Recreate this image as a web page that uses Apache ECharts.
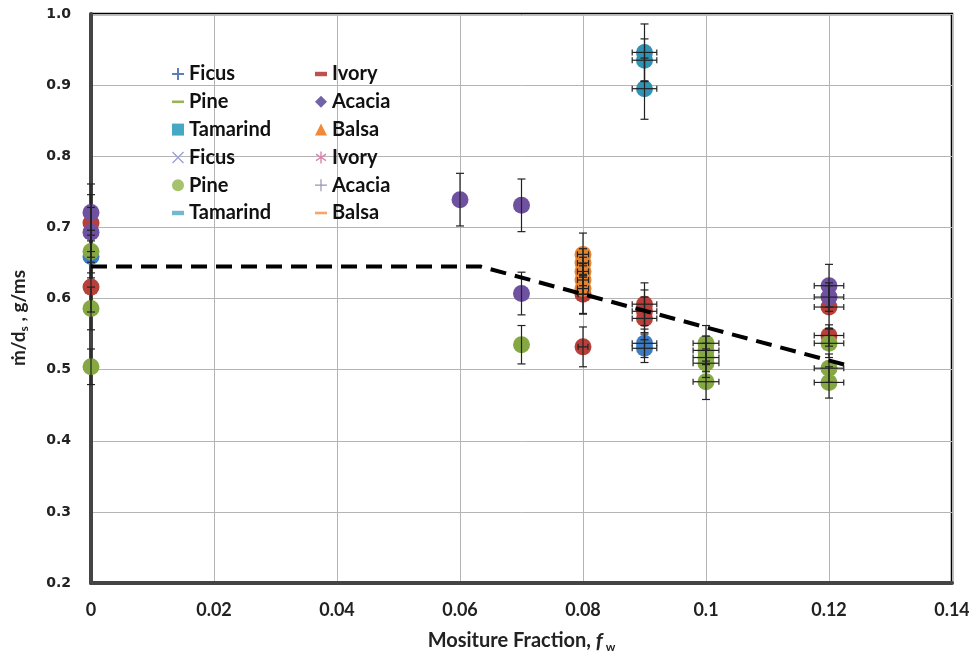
<!DOCTYPE html>
<html>
<head>
<meta charset="utf-8">
<script src="https://cdn.jsdelivr.net/npm/echarts@6/dist/echarts.min.js"></script>
<style>
  html, body { margin: 0; padding: 0; background: #fff; }
  #chart { width: 969px; height: 654px; }
</style>
</head>
<body>
<div id="chart"></div>
<script>
// axis ticks
var xTicks = [0, 0.02, 0.04, 0.06, 0.08, 0.1, 0.12, 0.14];
var yTicks = [0.2, 0.3, 0.4, 0.5, 0.6, 0.7, 0.8, 0.9, 1.0];

// data per wood: moisture fraction, m/ds, half error in y, half error in x
var ficusX = [0, 0.09, 0.09];
var ficusY = [0.659, 0.537, 0.530];
var ficusYErr = [0.03, 0.02, 0.02];
var ficusXErr = [0, 0.002, 0.002];

var ivoryX = [0, 0, 0.08, 0.08, 0.09, 0.09, 0.09, 0.12, 0.12];
var ivoryY = [0.706, 0.616, 0.606, 0.532, 0.592, 0.582, 0.572, 0.588, 0.548];
var ivoryYErr = [0.04, 0.035, 0.028, 0.028, 0.03, 0.03, 0.03, 0.03, 0.015];
var ivoryXErr = [0, 0, 0.0008, 0.0008, 0.002, 0.002, 0.002, 0.0024, 0.0024];

var pineX = [0, 0, 0, 0.07, 0.1, 0.1, 0.1, 0.1, 0.1, 0.12, 0.12, 0.12];
var pineY = [0.666, 0.586, 0.504, 0.535, 0.537, 0.527, 0.517, 0.509, 0.483, 0.537, 0.502, 0.482];
var pineYErr = [0.03, 0.03, 0.025, 0.027, 0.025, 0.02, 0.02, 0.02, 0.025, 0.02, 0.02, 0.022];
var pineXErr = [0, 0, 0, 0, 0.0021, 0.0021, 0.0021, 0.0021, 0.0021, 0.0024, 0.0024, 0.0024];

var acaciaX = [0, 0, 0.06, 0.07, 0.07, 0.12, 0.12];
var acaciaY = [0.721, 0.693, 0.739, 0.731, 0.607, 0.618, 0.602];
var acaciaYErr = [0.04, 0.035, 0.037, 0.037, 0.03, 0.03, 0.02];
var acaciaXErr = [0, 0, 0, 0, 0, 0.0024, 0.0024];

var tamarindX = [0.09, 0.09, 0.09];
var tamarindY = [0.946, 0.935, 0.895];
var tamarindYErr = [0.04, 0.03, 0.043];
var tamarindXErr = [0.002, 0.002, 0.002];

var balsaX = [0.08, 0.08, 0.08, 0.08, 0.08];
var balsaY = [0.662, 0.650, 0.638, 0.626, 0.614];
var balsaYErr = [0.03, 0.02, 0.02, 0.02, 0.035];
var balsaXErr = [0.0009, 0.0009, 0.0009, 0.0009, 0.0009];

// dashed fit line
var fitX = [0, 0.0633, 0.1234];
var fitY = [0.645, 0.645, 0.505];

var woods = [
  { name: 'Ficus', x: ficusX, y: ficusY, ye: ficusYErr, xe: ficusXErr, color: '#3b7cc4' },
  { name: 'Ivory', x: ivoryX, y: ivoryY, ye: ivoryYErr, xe: ivoryXErr, color: '#b9403a' },
  { name: 'Pine', x: pineX, y: pineY, ye: pineYErr, xe: pineXErr, color: '#86a843' },
  { name: 'Acacia', x: acaciaX, y: acaciaY, ye: acaciaYErr, xe: acaciaXErr, color: '#6f51a1' },
  { name: 'Tamarind', x: tamarindX, y: tamarindY, ye: tamarindYErr, xe: tamarindXErr, color: '#2f93b5' },
  { name: 'Balsa', x: balsaX, y: balsaY, ye: balsaYErr, xe: balsaXErr, color: '#e5832f' }
];

// legend icons (excel style markers)
var plusIcon = 'path://M5,0H7V5H12V7H7V12H5V7H0V5H5Z';
var thinPlus = 'path://M5.4,0H6.6V5.4H12V6.6H6.6V12H5.4V6.6H0V5.4H5.4Z';
var crossIcon = 'path://M1,0L6,5L11,0L12,1L7,6L12,11L11,12L6,7L1,12L0,11L5,6L0,1Z';
var starIcon = 'path://M5.3,0H6.7V4.8L10.6,2.2L11.4,3.4L7.4,6L11.4,8.6L10.6,9.8L6.7,7.2V12H5.3V7.2L1.4,9.8L0.6,8.6L4.6,6L0.6,3.4L1.4,2.2L5.3,4.8Z';
var dashIcon = 'path://M0,0H12V2.6H0Z';
var shortDash = 'path://M0,0H7V2.6H0Z';

var legendLeft = [
  { name: 'Ficus', icon: plusIcon, itemStyle: { color: '#5b80b8' } },
  { name: 'Pine', icon: dashIcon, itemStyle: { color: '#98b556' } },
  { name: 'Tamarind', icon: 'rect', itemStyle: { color: '#45a8c4' } },
  { name: 'Ficus ', icon: crossIcon, itemStyle: { color: '#9aa3d4' } },
  { name: 'Pine ', icon: 'circle', itemStyle: { color: '#a5c36d' } },
  { name: 'Tamarind ', icon: shortDash, itemStyle: { color: '#72b8cf' } }
];
var legendRight = [
  { name: 'Ivory', icon: shortDash, itemStyle: { color: '#c0504d' } },
  { name: 'Acacia', icon: 'diamond', itemStyle: { color: '#7462a6' } },
  { name: 'Balsa', icon: 'triangle', itemStyle: { color: '#f08a3a' } },
  { name: 'Ivory ', icon: starIcon, itemStyle: { color: '#d883ad' } },
  { name: 'Acacia ', icon: thinPlus, itemStyle: { color: '#9a92b4' } },
  { name: 'Balsa ', icon: dashIcon, itemStyle: { color: '#f3a56c' } }
];

function zip(w) {
  return w.x.map(function (v, i) { return [v, w.y[i], w.ye[i], w.xe[i]]; });
}

function renderErr(params, api) {
  var x = api.value(0), y = api.value(1), ye = api.value(2), xe = api.value(3);
  var top = api.coord([x, y + ye]);
  var bot = api.coord([x, y - ye]);
  var c = api.coord([x, y]);
  var st = { stroke: '#222', lineWidth: 1.2 };
  var cap = 4;
  var kids = [
    { type: 'line', shape: { x1: c[0], y1: top[1], x2: c[0], y2: bot[1] }, style: st },
    { type: 'line', shape: { x1: c[0] - cap, y1: top[1], x2: c[0] + cap, y2: top[1] }, style: st },
    { type: 'line', shape: { x1: c[0] - cap, y1: bot[1], x2: c[0] + cap, y2: bot[1] }, style: st }
  ];
  if (xe > 0) {
    var l = api.coord([x - xe, y]);
    var r = api.coord([x + xe, y]);
    kids.push({ type: 'line', shape: { x1: l[0], y1: c[1], x2: r[0], y2: c[1] }, style: st });
    kids.push({ type: 'line', shape: { x1: l[0], y1: c[1] - 3, x2: l[0], y2: c[1] + 3 }, style: st });
    kids.push({ type: 'line', shape: { x1: r[0], y1: c[1] - 3, x2: r[0], y2: c[1] + 3 }, style: st });
  }
  return { type: 'group', children: kids };
}

var series = [];
woods.forEach(function (w) {
  series.push({
    name: w.name,
    type: 'scatter',
    data: zip(w),
    symbol: 'circle',
    symbolSize: 17,
    itemStyle: { color: w.color, opacity: 1 },
    z: 2
  });
});
woods.forEach(function (w) {
  series.push({
    name: w.name + ' ',
    type: 'custom',
    data: zip(w),
    renderItem: renderErr,
    encode: { x: 0, y: 1 },
    z: 3
  });
});
series.push({
  type: 'line',
  data: fitX.map(function (v, i) { return [v, fitY[i]]; }),
  symbol: 'none',
  lineStyle: { color: '#000', width: 4, type: [16, 9] },
  z: 4
});

var legendText = { fontFamily: 'Lato', fontWeight: 'bold', fontSize: 20, color: '#111' };

var chart = echarts.init(document.getElementById('chart'));
chart.setOption({
  backgroundColor: '#fff',
  animation: false,
  grid: { left: 91, right: 17, top: 14, bottom: 71, show: true, borderColor: '#000', borderWidth: 2.5,
    outerBoundsMode: 'none', containLabel: false },
  legend: [
    { left: 167, top: 59, orient: 'vertical', itemWidth: 12, itemHeight: 12, itemGap: 7.8, itemTextGap: 7,
      textStyle: legendText, data: legendLeft, selectedMode: false },
    { left: 310, top: 59, orient: 'vertical', itemWidth: 12, itemHeight: 12, itemGap: 7.8, itemTextGap: 7,
      textStyle: legendText, data: legendRight, selectedMode: false }
  ],
  // y axis title, placed like the original
  graphic: [{
    type: 'text',
    x: 19, y: 318,
    rotation: Math.PI / 2,
    style: {
      text: 'ṁ/d{sub|s} , g/ms',
      align: 'center', verticalAlign: 'middle',
      fontFamily: 'Lato', fontWeight: 'bold', fontSize: 19, fill: '#222',
      rich: {
        sub: { fontFamily: 'Lato', fontWeight: 'bold', fontSize: 12, fill: '#222', padding: [10, 0, 0, 0] }
      }
    }
  }],
  xAxis: {
    type: 'value',
    min: xTicks[0], max: xTicks[xTicks.length - 1], interval: 0.02,
    name: 'Mositure Fraction, {it|f}{sub| w}',
    nameLocation: 'middle', nameGap: 46,
    nameTextStyle: {
      fontFamily: 'Lato', fontWeight: 'bold', fontSize: 20, color: '#222',
      rich: {
        it: { fontFamily: 'Lato', fontStyle: 'italic', fontWeight: 'bold', fontSize: 21, color: '#222' },
        sub: { fontFamily: 'Lato', fontWeight: 'bold', fontSize: 12, color: '#222', padding: [12, 0, 0, 0] }
      }
    },
    axisLine: { show: true, onZero: false, lineStyle: { color: '#444', width: 4 } },
    axisTick: { show: false },
    axisLabel: {
      margin: 18, fontFamily: 'Lato', fontWeight: 'bold', fontSize: 18, color: '#222',
      formatter: function (v) { return String(+v.toFixed(2)); }
    },
    splitLine: { show: true, lineStyle: { color: '#b4b4b4', width: 1 } }
  },
  yAxis: {
    type: 'value',
    min: yTicks[0], max: yTicks[yTicks.length - 1], interval: 0.1,
    axisLine: { show: true, onZero: false, lineStyle: { color: '#444', width: 4 } },
    axisTick: { show: false },
    axisLabel: {
      margin: 20, fontFamily: 'DejaVu Sans', fontWeight: 'bold', fontSize: 14, color: '#222',
      formatter: function (v) { return v.toFixed(1); }
    },
    splitLine: { show: true, lineStyle: { color: '#b4b4b4', width: 1 } }
  },
  series: series
});
</script>
</body>
</html>
